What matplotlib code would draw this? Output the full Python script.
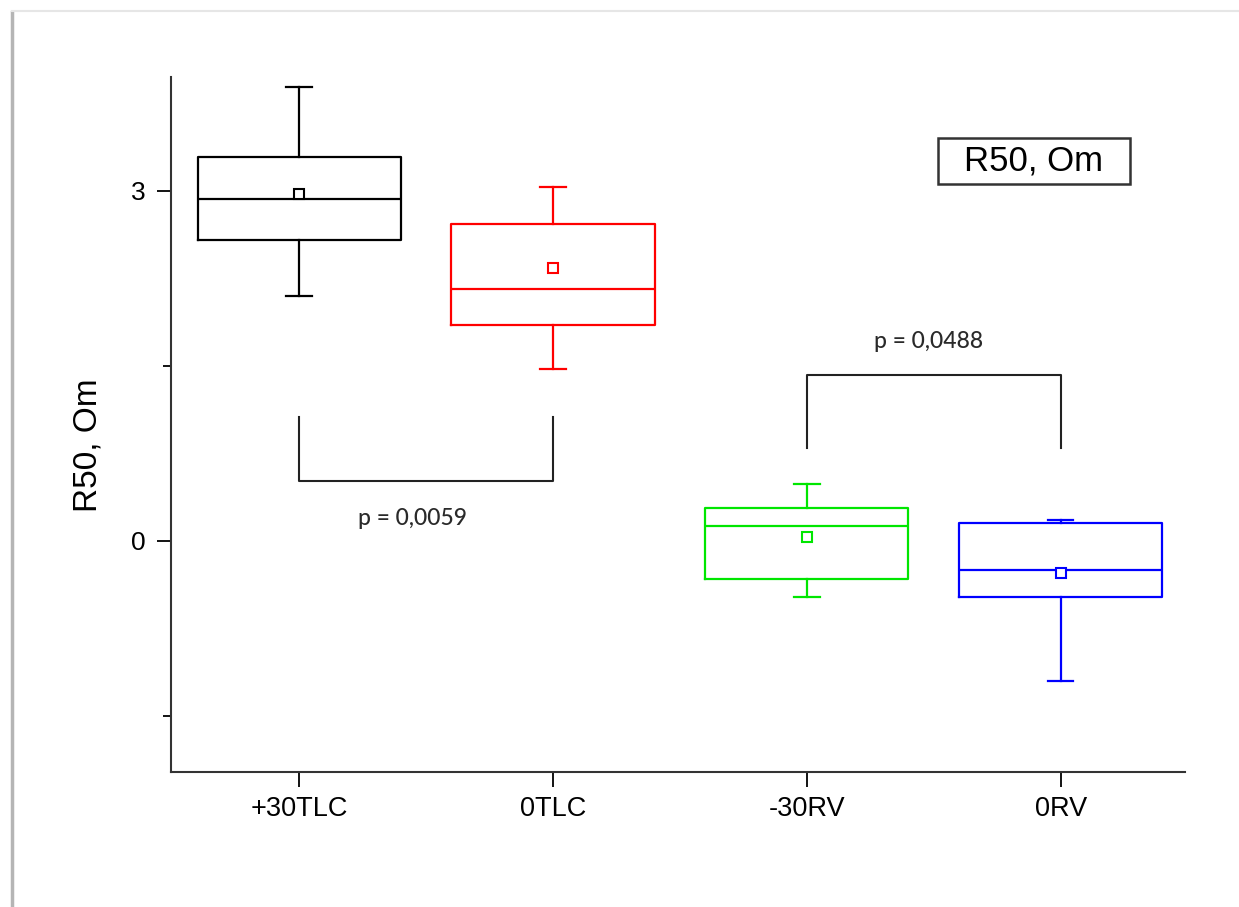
import matplotlib.pyplot as plt
from matplotlib.lines import Line2D
from matplotlib.patches import Rectangle

# data
groups = ["+30TLC", "0TLC", "-30RV", "0RV"]
colors = ["#000000", "#ff0000", "#00e600", "#0000ff"]
whis_hi = [3.89, 3.03, 0.49, 0.18]
q3 = [3.29, 2.72, 0.285, 0.152]
median = [2.93, 2.16, 0.131, -0.249]
mean = [2.97, 2.34, 0.034, -0.274]
q1 = [2.58, 1.85, -0.326, -0.48]
whis_lo = [2.10, 1.47, -0.48, -1.197]

# significance brackets: (left group, right group, y of bar, y of leg ends, p label, label x, label y)
brackets = [
    (1, 2, 0.517, 1.066, "p = 0,0059", 1.445, 0.19),
    (3, 4, 1.423, 0.793, "p = 0,0488", 3.48, 1.714),
]

fig = plt.figure(figsize=(12.39, 9.07), dpi=100)
ax = fig.add_axes([171/1239, (907-772)/907, (1185-171)/1239, (772-77)/907])

pos = list(range(1, len(groups) + 1))
for i in range(len(groups)):
    st = [dict(med=median[i], q1=q1[i], q3=q3[i], whislo=whis_lo[i],
               whishi=whis_hi[i], mean=mean[i], fliers=[])]
    c = colors[i]
    ax.bxp(st, positions=[pos[i]], widths=0.8, capwidths=0.1, showmeans=True,
           showfliers=False,
           boxprops=dict(color=c, lw=1.6),
           whiskerprops=dict(color=c, lw=1.6),
           capprops=dict(color=c, lw=1.6),
           medianprops=dict(color=c, lw=1.6),
           meanprops=dict(marker="s", markerfacecolor="white", markeredgecolor=c,
                          markersize=7, markeredgewidth=1.5))

for a, b, ybar, yend, label, xlab, ylab in brackets:
    ax.plot([a, a, b, b], [yend, ybar, ybar, yend], color="#222222", lw=1.5)
    ax.text(xlab, ylab, label, ha="center", va="center",
            fontsize=16.5, family=["Lato", "DejaVu Sans"], weight="medium", color="#2a2a2a")

ax.set_xlim(0.495, 4.49)
ax.set_ylim(-1.98, 3.977)
ax.set_xticks(pos)
ax.set_xticklabels(groups, fontsize=19.5, family="Liberation Sans")
ax.set_yticks([0, 3])
ax.set_yticklabels(["0", "3"], fontsize=19, family="Liberation Sans")
ax.set_yticks([-1.5, 1.5], minor=True)
ax.tick_params(axis="y", which="major", length=10, width=1.3, pad=8)
ax.tick_params(axis="y", which="minor", length=6, width=1.3)
ax.tick_params(axis="x", length=11, width=1.3, pad=6)
ax.set_ylabel("R50, Om", fontsize=24, family="Liberation Sans")
ax.yaxis.set_label_coords(-0.067, 0.47)
for s in ["top", "right"]:
    ax.spines[s].set_visible(False)
for s in ["left", "bottom"]:
    ax.spines[s].set_linewidth(1.5)
    ax.spines[s].set_color("#333333")

# legend-like label box
ax.add_patch(Rectangle((0.7564, 0.846), 0.1894, 0.066, transform=ax.transAxes,
                       fc="white", ec="#333333", lw=1.8, clip_on=False))
ax.text(0.851, 0.879, "R50, Om", transform=ax.transAxes, ha="center", va="center",
        fontsize=25, family="Liberation Sans")

# screenshot frame
fig.add_artist(Line2D([12/1239, 12/1239], [0, (907-12)/907], color="#b5b5b5", lw=2.5,
                      transform=fig.transFigure))
fig.add_artist(Line2D([12/1239, 1], [(907-11)/907, (907-11)/907], color="#e6e6e6", lw=1.5,
                      transform=fig.transFigure))

fig.savefig("out.png", dpi=100)
